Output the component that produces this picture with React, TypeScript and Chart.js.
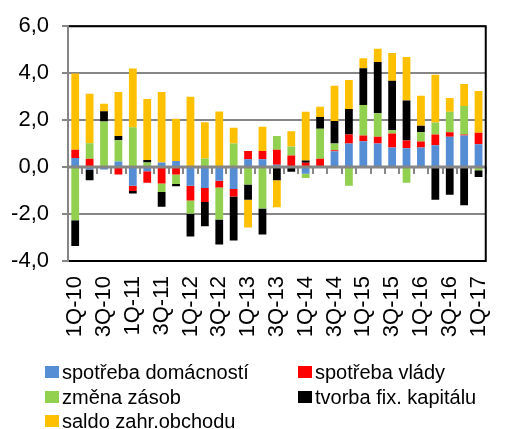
import React, { useEffect, useRef } from "react";
import { Chart, registerables } from "chart.js";

Chart.register(...registerables);

const categories = [
  "1Q-10", "2Q-10", "3Q-10", "4Q-10",
  "1Q-11", "2Q-11", "3Q-11", "4Q-11",
  "1Q-12", "2Q-12", "3Q-12", "4Q-12",
  "1Q-13", "2Q-13", "3Q-13", "4Q-13",
  "1Q-14", "2Q-14", "3Q-14", "4Q-14",
  "1Q-15", "2Q-15", "3Q-15", "4Q-15",
  "1Q-16", "2Q-16", "3Q-16", "4Q-16",
  "1Q-17",
];

const households = [
  0.39, -0.1, -0.1, 0.24, -0.8, -0.18, 0.2, 0.26, -0.8, -0.89, -0.58, -0.93,
  0.33, 0.33, 0.1, 0.0, -0.28, 0.0, 0.67, 1.0, 1.1, 1.0, 0.83, 0.8, 0.83, 0.93,
  1.29, 1.35, 0.97,
];
const government = [
  0.35, 0.35, 0.05, -0.32, -0.22, -0.49, -0.7, -0.32, -0.62, -0.6, -0.29, -0.32,
  0.36, 0.36, 0.64, 0.49, 0.18, 0.35, 0.05, 0.39, 0.25, 0.29, 0.6, 0.33, 0.26,
  0.46, 0.19, 0.04, 0.49,
];
const inventories = [
  -2.26, 0.67, 1.89, 0.9, 1.7, 0.2, -0.36, -0.4, -0.57, 0.37, -1.36, 1.0, -0.74,
  -1.76, 0.58, 0.39, -0.18, 1.28, 0.28, -0.8, 1.29, 1.0, 0.14, -0.67, 0.39, 0.51,
  0.88, 1.21, -0.14,
];
const fixedCapital = [
  -1.1, -0.46, 0.44, 0.18, -0.11, 0.1, -0.63, -0.1, -0.97, -1.03, -1.07, -1.88,
  -0.65, -1.11, -0.56, -0.2, 0.1, 0.5, 0.96, 1.08, 1.57, 2.18, 2.11, 1.71, 0.28,
  -1.39, -1.18, -1.63, -0.28,
];
const tradeBalance = [
  3.25, 2.1, 0.32, 1.88, 2.5, 2.6, 3.0, 1.8, 3.0, 1.54, 2.37, 0.67, -1.18, 1.03,
  -1.15, 0.65, 2.08, 0.44, 1.5, 1.24, 0.42, 0.57, 1.18, 1.85, 1.28, 2.03, 0.58,
  0.94, 1.78,
];

const seriesNames = [
  "spotřeba domácností",
  "spotřeba vlády",
  "změna zásob",
  "tvorba fix. kapitálu",
  "saldo zahr.obchodu",
];
const seriesColors = ["#558ED5", "#FF0000", "#92D050", "#000000", "#FFC000"];

const yMin = -4;
const yMax = 6;
const yStep = 2;

const FONT = "'Liberation Sans', Arial, sans-serif";

const framePlugin = {
  id: "frame",
  afterDatasetsDraw(chart: any) {
    const { ctx, chartArea, scales } = chart;
    const x = scales.x;
    const y = scales.y;
    const y0 = y.getPixelForValue(0);
    ctx.save();
    // zero axis line
    ctx.strokeStyle = "#868686";
    ctx.lineWidth = 3;
    ctx.beginPath();
    ctx.moveTo(chartArea.left, y0);
    ctx.lineTo(chartArea.right, y0);
    ctx.stroke();
    // tick marks at category boundaries
    ctx.lineWidth = 2;
    const n = chart.data.labels.length;
    for (let i = 0; i <= n; i++) {
      const px =
        i < n
          ? x.getPixelForValue(i) - (x.getPixelForValue(1) - x.getPixelForValue(0)) / 2
          : chartArea.right;
      ctx.beginPath();
      ctx.moveTo(Math.round(px), y0);
      ctx.lineTo(Math.round(px), y0 + 7);
      ctx.stroke();
    }
    // box
    ctx.strokeStyle = "#000000";
    ctx.lineWidth = 2;
    ctx.beginPath();
    ctx.moveTo(chartArea.left, chartArea.top);
    ctx.lineTo(chartArea.right, chartArea.top);
    ctx.lineTo(chartArea.right, chartArea.bottom);
    ctx.lineTo(chartArea.left, chartArea.bottom);
    ctx.stroke();
    // left axis
    ctx.strokeStyle = "#868686";
    ctx.beginPath();
    ctx.moveTo(chartArea.left, chartArea.top - 1);
    ctx.lineTo(chartArea.left, chartArea.bottom + 1);
    ctx.stroke();
    ctx.restore();
  },
};

export default function App() {
  const canvasRef = useRef<HTMLCanvasElement | null>(null);

  useEffect(() => {
    const series = [households, government, inventories, fixedCapital, tradeBalance];
    const chart = new Chart(canvasRef.current as HTMLCanvasElement, {
      type: "bar",
      data: {
        labels: categories,
        datasets: series.map((d, i) => ({
          label: seriesNames[i],
          data: d,
          backgroundColor: seriesColors[i],
          borderWidth: 0,
          categoryPercentage: 1,
          barPercentage: 0.54,
        })),
      },
      options: {
        responsive: false,
        animation: false,
        events: [],
        layout: { padding: { top: 22, right: 3, left: 0, bottom: 0 } },
        plugins: {
          legend: { display: false },
          tooltip: { enabled: false },
        },
        scales: {
          x: {
            stacked: true,
            grid: { display: false, drawTicks: false },
            border: { display: false },
            ticks: {
              autoSkip: false,
              minRotation: 90,
              maxRotation: 90,
              padding: 15,
              color: "#000000",
              font: { family: FONT, size: 22 },
              callback: (_v: any, i: number) => (i % 2 === 0 ? categories[i] : ""),
            },
            afterFit: (s: any) => {
              s.height = 168;
            },
          },
          y: {
            stacked: true,
            min: yMin,
            max: yMax,
            grid: {
              color: (c: any) =>
                c.tick && c.tick.value === 0 ? "rgba(0,0,0,0)" : "#868686",
              lineWidth: 2,
              tickLength: 6,
              tickColor: "#868686",
            },
            border: { display: false },
            ticks: {
              stepSize: yStep,
              padding: 13,
              color: "#000000",
              font: { family: FONT, size: 22 },
              callback: (v: any) => Number(v).toFixed(1).replace(".", ","),
            },
            afterFit: (s: any) => {
              s.width = 68;
            },
          },
        },
      },
      plugins: [framePlugin],
    } as any);
    return () => chart.destroy();
  }, []);

  const legendItem = (i: number, left: number, top: number) => (
    <div
      key={i}
      style={{
        position: "absolute",
        left,
        top,
        display: "flex",
        alignItems: "center",
        whiteSpace: "nowrap",
        fontFamily: FONT,
        fontSize: 20,
        color: "#000",
        lineHeight: "24px",
      }}
    >
      <span
        style={{
          display: "inline-block",
          width: 14,
          height: 12,
          background: seriesColors[i],
          marginRight: 3,
        }}
      />
      {seriesNames[i]}
    </div>
  );

  return (
    <div
      style={{
        position: "absolute",
        left: 0,
        top: 0,
        width: 520,
        height: 429,
        background: "#fff",
        overflow: "hidden",
      }}
    >
      <canvas ref={canvasRef} width={520} height={429} style={{ display: "block" }} />
      {legendItem(0, 45, 360)}
      {legendItem(1, 298, 360)}
      {legendItem(2, 45, 385)}
      {legendItem(3, 298, 385)}
      {legendItem(4, 45, 409)}
    </div>
  );
}
